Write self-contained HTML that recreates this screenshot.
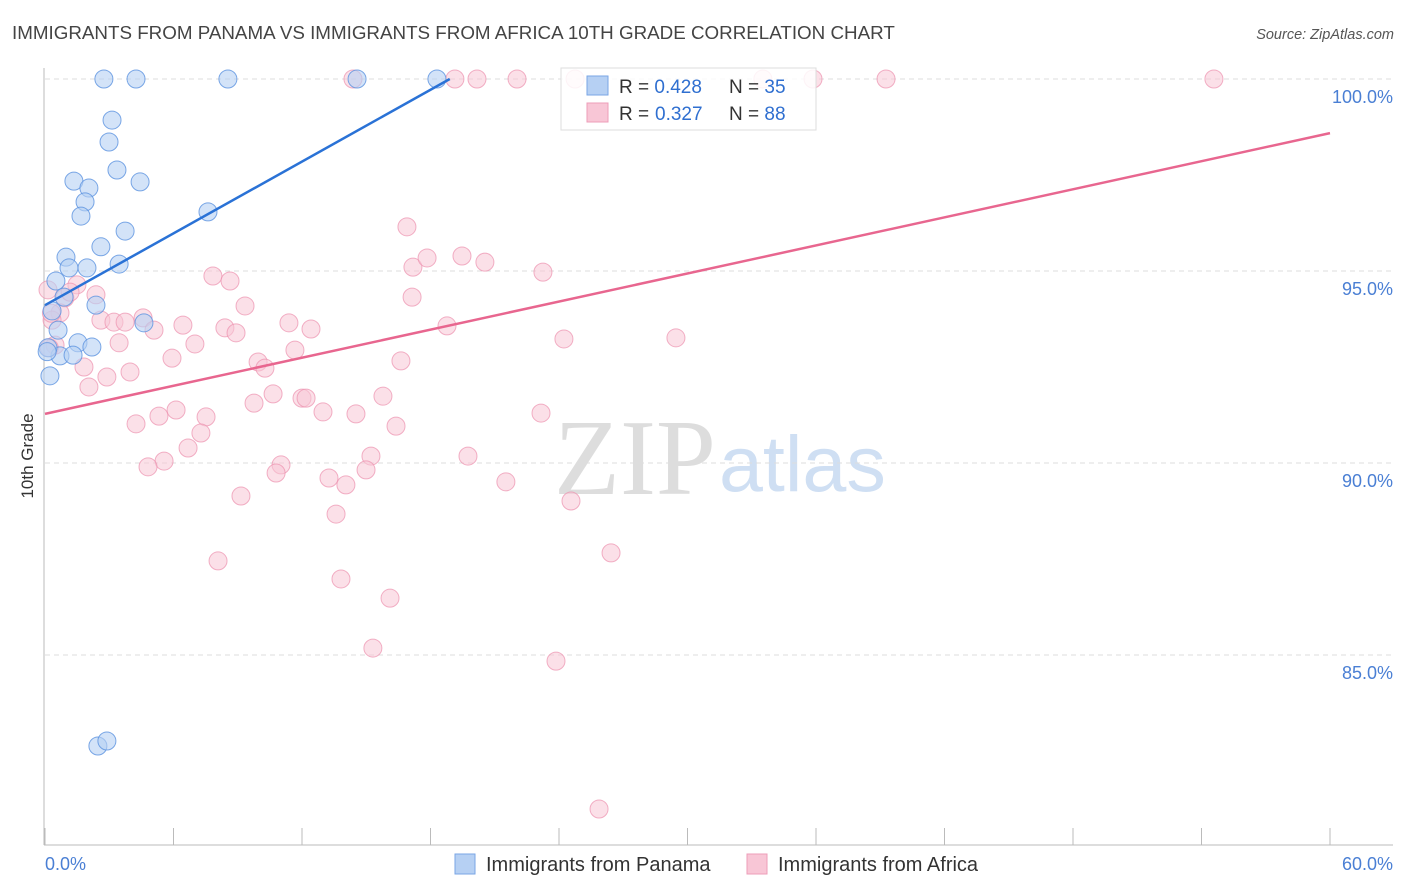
<!DOCTYPE html>
<html><head><meta charset="utf-8"><style>
body{margin:0;background:#fff;font-family:"Liberation Sans",sans-serif;}
svg{display:block}
</style></head><body>
<svg id="chart" width="1406" height="892">
<text x="12" y="39" font-size="18.8" fill="#444">IMMIGRANTS FROM PANAMA VS IMMIGRANTS FROM AFRICA 10TH GRADE CORRELATION CHART</text>
<text x="1394" y="39" font-size="14.5" fill="#555" font-style="italic" text-anchor="end">Source: ZipAtlas.com</text>
<text x="33" y="456" font-size="17" fill="#333" text-anchor="middle" transform="rotate(-90 33 456)">10th Grade</text>
<text x="554" y="494" font-size="108" fill="#ddd" font-family="Liberation Serif,serif">ZIP</text>
<text x="719" y="491" font-size="79" fill="#cfdff3">atlas</text>
<g id="grid"></g><g id="axes"></g><g id="pts"></g><g id="lines"></g>
<g>
<rect x="561" y="68" width="255" height="62" fill="#fff" fill-opacity="0.85" stroke="#ddd"/>
<rect x="587" y="76" width="21" height="19" fill="#b6d0f3" stroke="#7aa6e6"/>
<rect x="587" y="103" width="21" height="19" fill="#f8c6d6" stroke="#ee9db8"/>
<text x="619" y="93" font-size="19" fill="#333">R = <tspan fill="#2f6fd0">0.428</tspan><tspan x="729">N = </tspan><tspan fill="#2f6fd0">35</tspan></text>
<text x="619" y="120" font-size="19" fill="#333">R = <tspan fill="#2f6fd0" x="655">0.327</tspan><tspan x="729">N = </tspan><tspan fill="#2f6fd0">88</tspan></text>
</g>
<g>
<rect x="455" y="854" width="20" height="20" fill="#b6d0f3" stroke="#7aa6e6"/>
<text x="486" y="871" font-size="20" fill="#333">Immigrants from Panama</text>
<rect x="747" y="854" width="20" height="20" fill="#f8c6d6" stroke="#ee9db8"/>
<text x="778" y="871" font-size="20" fill="#333">Immigrants from Africa</text>
</g>
<text x="45" y="870" font-size="18" fill="#4a7fd4">0.0%</text>
<text x="1393" y="870" font-size="18" fill="#4a7fd4" text-anchor="end">60.0%</text>
</svg>
<script>
const yTicks=[100,95,90,85];
const yTickLabels=["100.0%","95.0%","90.0%","85.0%"];
const xTicks=[0,6,12,18,24,30,36,42,48,54,60];
const panamaX=[2.75,4.25,8.54,14.57,18.30,3.13,2.99,3.36,4.44,1.35,2.05,1.87,1.68,7.61,3.74,2.61,0.98,1.12,1.96,3.46,0.51,0.89,2.38,4.62,0.61,0.33,1.54,2.19,0.70,1.31,0.23,0.14,2.47,2.89,0.1];
const panamaY=[100,100,100,100,100,98.93,98.36,97.63,97.32,97.34,97.16,96.80,96.43,96.54,96.04,95.63,95.36,95.08,95.08,95.18,94.74,94.32,94.11,93.65,93.46,93.96,93.13,93.02,92.79,92.81,92.27,93.0,82.63,82.76,92.9];
const africaX=[14.38,19.14,20.17,22.04,24.75,33.52,35.86,39.27,54.58,16.90,17.18,17.84,19.47,20.54,23.25,7.84,8.64,9.34,17.14,0.93,2.38,1.49,0.70,2.61,3.22,3.74,4.58,5.09,6.44,8.40,8.92,11.39,12.42,18.77,24.23,29.46,3.46,5.93,7.00,11.67,9.95,10.27,16.62,1.82,3.97,2.89,2.05,10.65,12.0,12.19,15.78,9.76,6.12,5.32,7.52,12.98,14.52,4.25,16.39,23.16,7.28,6.68,5.56,4.81,15.22,11.02,19.75,10.79,13.26,14.05,14.99,21.52,9.15,24.56,13.59,8.08,26.43,13.82,16.11,15.31,23.86,25.87,0.33,0.47,0.14,1.17,0.3,0.2];
const africaY=[100,100,100,100,100,100,100,100,100,96.15,95.10,95.34,95.39,95.23,94.97,94.87,94.74,94.09,94.32,94.30,94.38,94.64,93.91,93.72,93.67,93.67,93.78,93.46,93.59,93.52,93.39,93.65,93.49,93.57,93.23,93.26,93.13,92.73,93.10,92.94,92.63,92.47,92.66,92.50,92.37,92.24,91.98,91.80,91.69,91.69,91.74,91.56,91.38,91.22,91.20,91.33,91.28,91.02,90.96,91.30,90.78,90.39,90.05,89.90,90.18,89.95,90.18,89.74,89.61,89.43,89.82,89.51,89.14,89.01,88.67,87.45,87.66,86.98,86.48,85.18,84.84,80.99,93.72,93.07,94.51,94.45,93.9,93.0];
const panamaTrend=[[0,94.11],[18.9,100]];
const africaTrend=[[0,91.28],[60,98.59]];
const NS="http://www.w3.org/2000/svg";
const sx=v=>45+v/60*1285;
const sy=v=>79+(100-v)*38.4;
function mk(tag,attrs,parent){const e=document.createElementNS(NS,tag);for(const k in attrs)e.setAttribute(k,attrs[k]);document.getElementById(parent).appendChild(e);return e;}
yTicks.forEach((t,i)=>{
 const l=mk('line',{x1:45,x2:1393,y1:sy(t),y2:sy(t),stroke:'#ddd','stroke-dasharray':'5,4'},'grid');
 
 
 const tx=mk('text',{x:1393,y:sy(t)+24,'font-size':18,fill:'#4a7fd4','text-anchor':'end'},'grid');
 tx.textContent=yTickLabels[i];
 
 
});
const ya=mk('line',{x1:44,x2:44,y1:68,y2:845,stroke:'#bbb'},'axes');


const xa=mk('line',{x1:44,x2:1393,y1:845,y2:845,stroke:'#bbb'},'axes');


xTicks.forEach(t=>{
 const tk=mk('line',{x1:sx(t),x2:sx(t),y1:828,y2:845,stroke:'#bbb'},'axes');
 
 
});
africaX.forEach((x,i)=>{
 const c=mk('circle',{cx:sx(x),cy:sy(africaY[i]),r:9,fill:'#f8c6d6','fill-opacity':0.55,stroke:'#ec90ae','stroke-opacity':0.7},'pts');
 
 
});
panamaX.forEach((x,i)=>{
 const c=mk('circle',{cx:sx(x),cy:sy(panamaY[i]),r:9,fill:'#b6d0f3','fill-opacity':0.6,stroke:'#5b92e0','stroke-opacity':0.8},'pts');
 
 
});
const pl=mk('line',{x1:sx(panamaTrend[0][0]),y1:sy(panamaTrend[0][1]),x2:sx(panamaTrend[1][0]),y2:sy(panamaTrend[1][1]),stroke:'#2a72d6','stroke-width':2.5},'lines');


const al=mk('line',{x1:sx(africaTrend[0][0]),y1:sy(africaTrend[0][1]),x2:sx(africaTrend[1][0]),y2:sy(africaTrend[1][1]),stroke:'#e8668f','stroke-width':2.5},'lines');


</script>
</body></html>
